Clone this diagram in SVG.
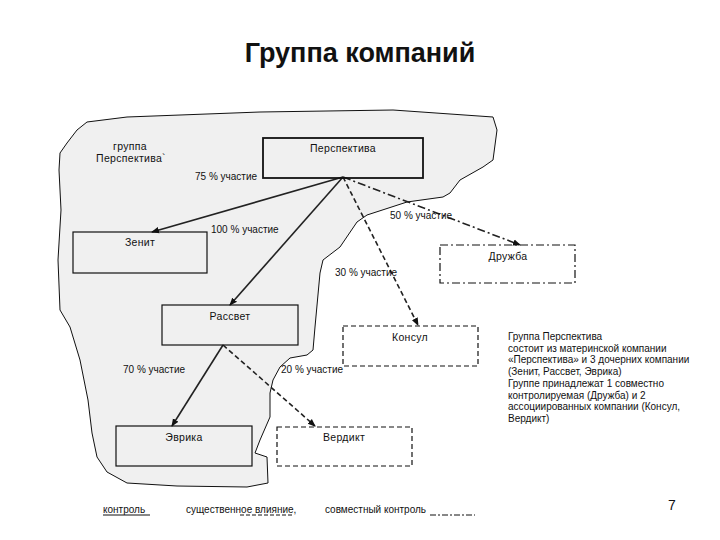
<svg xmlns="http://www.w3.org/2000/svg" width="720" height="540" viewBox="0 0 720 540">
<style>
text{font-family:"Liberation Sans",Arial,sans-serif;fill:#111}
.t{font-size:10.5px;text-anchor:middle;letter-spacing:0.3px}
.l{font-size:10px}
.box{fill:none;stroke:#111;stroke-width:1.2}
.dash{stroke-dasharray:5,3}
.dd{stroke-dasharray:8,3,2,3}
.c{fill:none;stroke:#222;stroke-width:1.6}
</style>
<defs>
<marker id="ah" markerWidth="8" markerHeight="8" refX="7" refY="4" orient="auto" markerUnits="userSpaceOnUse">
<path d="M0,0.8 L8,4 L0,7.2 Z" fill="#111"/>
</marker>
</defs>
<rect width="720" height="540" fill="#fff"/>
<text x="360" y="62" style="font-size:27px;font-weight:bold;text-anchor:middle">Группа компаний</text>

<g id="group-area">
<path d="M60,153 L67,143 L77,130 L87,122 L127,117 L260,112 L393,110 L493,117 L497,130 L493,160 L483,167 L460,180 L450,193 L443,197 L407,202 L367,215 L357,222 L340,247 L323,260 L320,273 L315,327 L313,350 L307,355 L290,358 L280,367 L273,380 L270,393 L270,417 L260,440 L255,453 L267,457 L268,483 L247,487 L177,486 L127,483 L107,472 L97,457 L92,433 L88,400 L80,360 L70,327 L60,310 L58,260 L61,210 L59,170 Z" fill="#f0f0f0" stroke="#111" stroke-width="1"/>
<text x="130" y="150" class="t">группа</text>
<text x="131" y="162" class="t">Перспектива`</text>
</g>

<g id="connectors">
<line x1="343" y1="177" x2="152" y2="232" class="c" marker-end="url(#ah)"/>
<line x1="343" y1="177" x2="230" y2="305" class="c" marker-end="url(#ah)"/>
<line x1="343" y1="177" x2="418" y2="325" class="c dash" marker-end="url(#ah)"/>
<line x1="343" y1="177" x2="520" y2="245" class="c dd" marker-end="url(#ah)"/>
<line x1="223" y1="345" x2="172" y2="426" class="c" marker-end="url(#ah)"/>
<line x1="223" y1="345" x2="315" y2="426" class="c dash" marker-end="url(#ah)"/>
<text x="195" y="180" class="l">75 % участие</text>
<text x="211" y="233" class="l">100 % участие</text>
<text x="390" y="219" class="l">50 % участие</text>
<text x="335" y="276" class="l">30 % участие</text>
<text x="123" y="373" class="l">70 % участие</text>
<text x="281" y="373" class="l">20 % участие</text>
</g>

<g id="perspektiva">
<rect x="263" y="138" width="160" height="40" class="box" style="stroke-width:1.8"/>
<text x="343" y="152" class="t">Перспектива</text>
</g>
<g id="zenit">
<rect x="73" y="232" width="134" height="41" class="box"/>
<text x="140" y="246" class="t">Зенит</text>
</g>
<g id="druzhba">
<rect x="440" y="245" width="135" height="38" class="box dd"/>
<text x="508" y="260" class="t">Дружба</text>
</g>
<g id="rassvet">
<rect x="162" y="305" width="136" height="40" class="box"/>
<text x="230" y="320" class="t">Рассвет</text>
</g>
<g id="konsul">
<rect x="343" y="326" width="135" height="40" class="box dash"/>
<text x="410" y="341" class="t">Консул</text>
</g>
<g id="evrika">
<rect x="116" y="426" width="136" height="40" class="box"/>
<text x="184" y="441" class="t">Эврика</text>
</g>
<g id="verdikt">
<rect x="277" y="427" width="135" height="39" class="box dash"/>
<text x="344" y="441" class="t">Вердикт</text>
</g>

<g id="note">
<text x="508" y="340" class="l">Группа Перспектива</text>
<text x="508" y="351.7" class="l">состоит из материнской компании</text>
<text x="508" y="363.4" class="l">«Перспектива» и 3 дочерних компании</text>
<text x="508" y="375.1" class="l">(Зенит, Рассвет, Эврика)</text>
<text x="508" y="386.8" class="l">Группе принадлежат 1 совместно</text>
<text x="508" y="398.5" class="l">контролируемая (Дружба) и 2</text>
<text x="508" y="410.2" class="l">ассоциированных компании (Консул,</text>
<text x="508" y="421.9" class="l">Вердикт)</text>
</g>

<g id="legend">
<text x="103" y="513" class="l">контроль</text>
<line x1="103" y1="515" x2="150" y2="515" stroke="#111" stroke-width="1"/>
<text x="186" y="513" class="l">существенное влияние,</text>
<line x1="240" y1="515" x2="294" y2="515" stroke="#111" stroke-width="1" stroke-dasharray="4,2"/>
<text x="325" y="513" class="l">совместный контроль</text>
<line x1="430" y1="515" x2="475" y2="515" stroke="#111" stroke-width="1" stroke-dasharray="6,2,2,2"/>
<text x="672" y="510" style="font-size:14px;text-anchor:middle">7</text>
</g>
</svg>
